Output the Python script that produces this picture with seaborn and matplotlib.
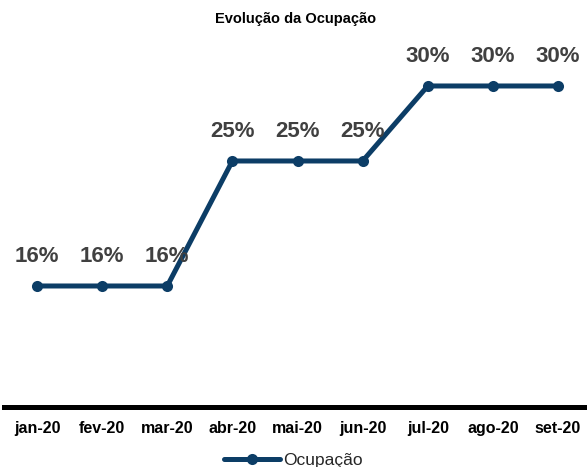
import matplotlib
matplotlib.use("Agg")
import matplotlib.pyplot as plt
import seaborn as sns
import pandas as pd

months = ["jan-20", "fev-20", "mar-20", "abr-20", "mai-20", "jun-20", "jul-20", "ago-20", "set-20"]
ocupacao = [16, 16, 16, 24.75, 24.75, 24.75, 30, 30, 30]

C_LINE = "#0C3D66"
C_LABEL = "#404040"

sns.set_theme(style="white")
plt.rcParams["font.family"] = ["Liberation Sans", "DejaVu Sans"]

df = pd.DataFrame({"mes": months, "x": range(len(months)), "Ocupação": ocupacao})

fig = plt.figure(figsize=(5.87, 4.67), dpi=100)
ax = fig.add_axes([0.0068, 0.1285, 0.9932, 0.807])

sns.lineplot(data=df, x="x", y="Ocupação", ax=ax, color=C_LINE, linewidth=3.6,
             marker="o", markersize=8, markeredgewidth=0, label="Ocupação", legend=False)

for xi, v in zip(df["x"], df["Ocupação"]):
    ax.annotate(f"{v:.0f}%", (xi, v), xytext=(0, 14), textcoords="offset points",
                ha="center", va="bottom", fontsize=16, fontweight="bold", color=C_LABEL)

ax.set_xlim(-0.507, 8.445)
ax.set_ylim(7.53, 33.91)
ax.set_xticks(list(df["x"]))
ax.set_xticklabels(months, fontsize=11.5, fontweight="bold", color="black")
ax.tick_params(axis="x", length=0, pad=10)
ax.set_yticks([])
ax.set_xlabel("")
ax.set_ylabel("")
for s in ["top", "right", "left"]:
    ax.spines[s].set_visible(False)
ax.spines["bottom"].set_linewidth(3.6)
ax.spines["bottom"].set_color("black")

ax.set_title("Evolução da Ocupação", fontsize=10.5, fontweight="bold", color="black", pad=5)

handles, labels = ax.get_legend_handles_labels()
fig.legend(handles, labels, loc="lower center", bbox_to_anchor=(0.5, -0.035), frameon=False,
           fontsize=12.5, handlelength=3.2, handletextpad=0.2)

fig.savefig("out.png", dpi=100)
